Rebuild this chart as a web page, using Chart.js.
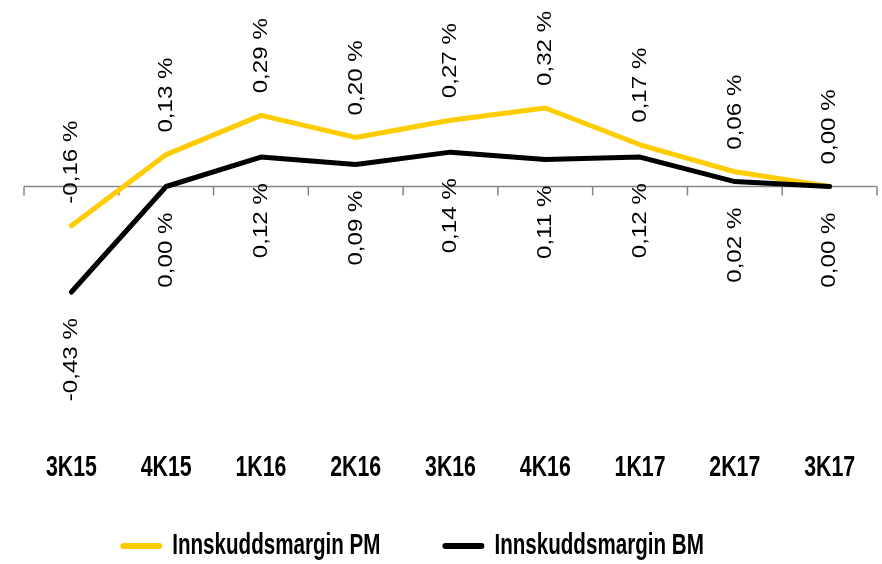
<!DOCTYPE html>
<html>
<head>
<meta charset="utf-8">
<script src="https://cdn.jsdelivr.net/npm/chart.js@4.4.1/dist/chart.umd.min.js"></script>
<style>
  html, body { margin: 0; padding: 0; background: #fff; }
  #wrap { width: 882px; height: 564px; }
</style>
</head>
<body>
<div id="wrap"><canvas id="chart" width="882" height="564"></canvas></div>
<script>
const categories = ['3K15', '4K15', '1K16', '2K16', '3K16', '4K16', '1K17', '2K17', '3K17'];
const pmValues = [-0.16, 0.13, 0.29, 0.20, 0.27, 0.32, 0.17, 0.06, 0.00];
const bmValues = [-0.43, 0.00, 0.12, 0.09, 0.14, 0.11, 0.12, 0.02, 0.00];
const seriesNames = ['Innskuddsmargin PM', 'Innskuddsmargin BM'];
const seriesColors = ['#FFCC00', '#000000'];

const FONT = "'Liberation Sans', Arial, sans-serif";
const NARROW = 0.71;

function formatPct(v) {
    return v.toFixed(2).replace('.', ',') + ' %';
}

// zero line with tick marks between categories
const zeroAxis = {
    id: 'zeroAxis',
    beforeDatasetsDraw(chart) {
        const { ctx, chartArea } = chart;
        const xs = chart.scales.x;
        const y0 = chart.scales.y.getPixelForValue(0);
        ctx.save();
        ctx.strokeStyle = '#868686';
        ctx.lineWidth = 1.5;
        ctx.beginPath();
        ctx.moveTo(chartArea.left, y0);
        ctx.lineTo(chartArea.right, y0);
        const n = categories.length;
        for (let i = 0; i <= n; i++) {
            let x;
            if (i === 0) x = chartArea.left;
            else if (i === n) x = chartArea.right;
            else x = (xs.getPixelForValue(i - 1) + xs.getPixelForValue(i)) / 2;
            ctx.moveTo(x, y0);
            ctx.lineTo(x, y0 + 9);
        }
        ctx.stroke();
        ctx.restore();
    }
};

// rotated value labels, PM above and BM below
const valueLabels = {
    id: 'valueLabels',
    afterDatasetsDraw(chart) {
        const { ctx } = chart;
        ctx.save();
        ctx.font = '21px ' + FONT;
        ctx.fillStyle = '#000';
        ctx.textBaseline = 'middle';
        chart.data.datasets.forEach((ds, di) => {
            const meta = chart.getDatasetMeta(di);
            meta.data.forEach((pt, i) => {
                const above = di === 0;
                ctx.save();
                ctx.translate(pt.x, above ? pt.y - 22 : pt.y + 26);
                ctx.rotate(-Math.PI / 2);
                ctx.scale(1.15, 1);
                ctx.textAlign = above ? 'left' : 'right';
                ctx.fillText(formatPct(ds.data[i]), 0, 0);
                ctx.restore();
            });
        });
        ctx.restore();
    }
};

// category labels and legend in a narrow bold face
const bottomText = {
    id: 'bottomText',
    afterDraw(chart) {
        const { ctx } = chart;
        const xs = chart.scales.x;
        ctx.save();
        ctx.font = 'bold 30px ' + FONT;
        ctx.fillStyle = '#000';
        ctx.textBaseline = 'middle';
        ctx.textAlign = 'center';
        categories.forEach((c, i) => {
            ctx.save();
            ctx.translate(xs.getPixelForValue(i), 468);
            ctx.scale(NARROW, 1);
            ctx.fillText(c, 0, 0);
            ctx.restore();
        });

        // legend
        ctx.font = 'bold 29px ' + FONT;
        ctx.textAlign = 'left';
        const lineLen = 42, gapLine = 10, gapItem = 62;
        const widths = chart.data.datasets.map(ds => ctx.measureText(ds.label).width * NARROW);
        let total = 0;
        widths.forEach((w, i) => { total += lineLen + gapLine + w + (i ? gapItem : 0); });
        let x = 412 - total / 2;
        const ly = 546;
        chart.data.datasets.forEach((ds, i) => {
            ctx.strokeStyle = ds.borderColor;
            ctx.lineWidth = 6;
            ctx.lineCap = 'round';
            ctx.beginPath();
            ctx.moveTo(x + 3, ly);
            ctx.lineTo(x + lineLen - 3, ly);
            ctx.stroke();
            x += lineLen + gapLine;
            ctx.save();
            ctx.translate(x, ly);
            ctx.scale(NARROW, 1);
            ctx.fillText(ds.label, 0, 0);
            ctx.restore();
            x += widths[i] + gapItem;
        });
        ctx.restore();
    }
};

const ctx = document.getElementById('chart').getContext('2d');
new Chart(ctx, {
    type: 'line',
    data: {
        labels: categories,
        datasets: [{
            label: seriesNames[0],
            data: pmValues,
            borderColor: seriesColors[0],
            borderWidth: 5,
            pointRadius: 0,
            tension: 0,
            borderCapStyle: 'round',
            borderJoinStyle: 'round',
            order: 1,
        }, {
            label: seriesNames[1],
            data: bmValues,
            borderColor: seriesColors[1],
            borderWidth: 5,
            pointRadius: 0,
            tension: 0,
            borderCapStyle: 'round',
            borderJoinStyle: 'round',
            order: 0,
        }],
    },
    options: {
        responsive: false,
        devicePixelRatio: 1,
        animation: false,
        layout: { padding: { left: 24, right: 5, top: 0, bottom: 191 } },
        scales: {
            x: { type: 'category', offset: true, display: false },
            y: { min: -0.76, max: 0.76, display: false },
        },
        plugins: {
            legend: { display: false },
            tooltip: { enabled: false },
        },
    },
    plugins: [zeroAxis, valueLabels, bottomText],
});
</script>
</body>
</html>
